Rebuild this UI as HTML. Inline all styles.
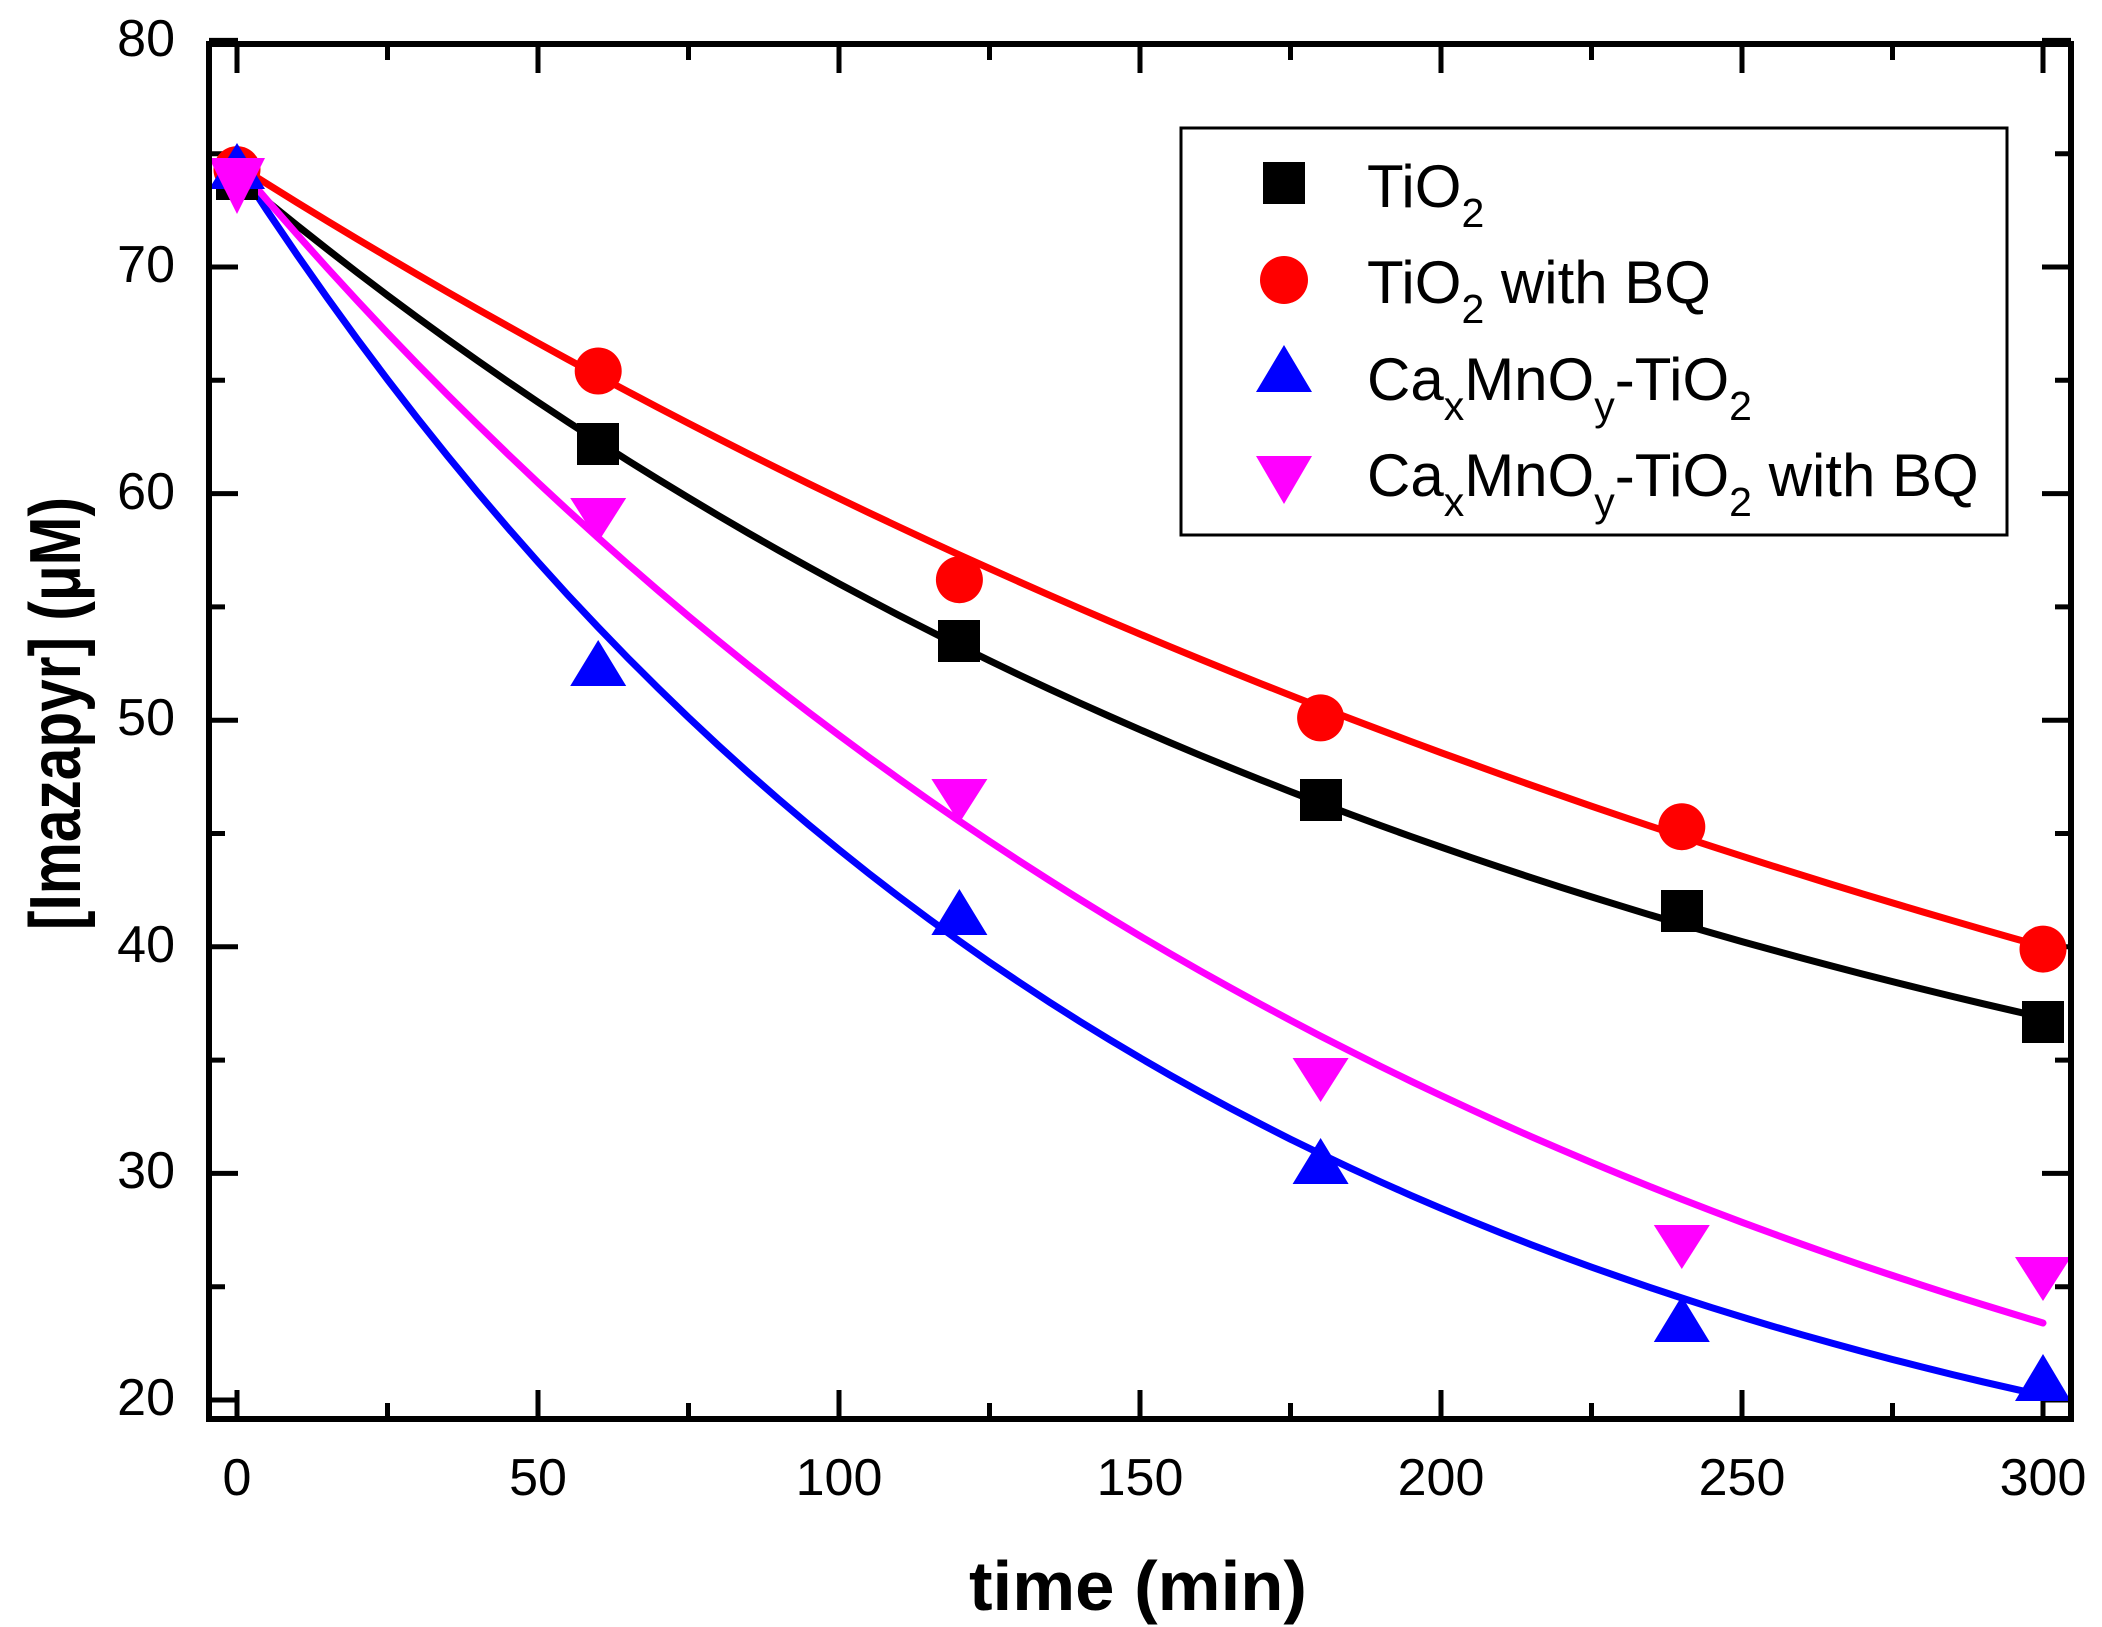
<!DOCTYPE html>
<html><head><meta charset="utf-8"><style>
html,body{margin:0;padding:0;background:#fff}
svg{display:block}
text{font-family:"Liberation Sans",Arial,sans-serif}
</style></head><body>
<svg width="2102" height="1627" viewBox="0 0 2102 1627" xmlns="http://www.w3.org/2000/svg">
<rect width="2102" height="1627" fill="#fff"/>
<g stroke="#000" stroke-width="5" fill="none">
<path d="M237 44v29M538 44v29M839 44v29M1140 44v29M1441 44v29M1742 44v29M2043 44v29
M387.5 44v16M688.5 44v16M989.5 44v16M1290.5 44v16M1591.5 44v16M1892.5 44v16
M237 1419v-29M538 1419v-29M839 1419v-29M1140 1419v-29M1441 1419v-29M1742 1419v-29M2043 1419v-29
M387.5 1419v-16M688.5 1419v-16M989.5 1419v-16M1290.5 1419v-16M1591.5 1419v-16M1892.5 1419v-16
M209 40.4h29M209 267h29M209 493.6h29M209 720.2h29M209 946.8h29M209 1173.4h29M209 1400h29
M209 153.7h16M209 380.3h16M209 606.9h16M209 833.5h16M209 1060.1h16M209 1286.7h16
M2071 40.4h-29M2071 267h-29M2071 493.6h-29M2071 720.2h-29M2071 946.8h-29M2071 1173.4h-29M2071 1400h-29
M2071 153.7h-16M2071 380.3h-16M2071 606.9h-16M2071 833.5h-16M2071 1060.1h-16M2071 1286.7h-16"/>
</g>
<g fill="none" stroke-width="7" stroke-linejoin="round" stroke-linecap="round">
<polyline id="c0" stroke="#000" points="237,1400"/>
<polyline id="c1" stroke="#f00" points="237,1400"/>
<polyline id="c2" stroke="#00f" points="237,1400"/>
<polyline id="c3" stroke="#f0f" points="237,1400"/>
</g>
<script>
(function(){
var m=[[50.9,23.1,0.77],[62,12.5,0.85],[64,10.5,0.68],[68.75,5.75,0.76]];
var end=[null,null,20.2,23.4];
for(var i=0;i<4;i++){
 var A=m[i][0],B=m[i][1],r=m[i][2],p=[];
 for(var t=0;t<=300;t+=5){
  var v=A*Math.pow(r,t/60)+B;
  if(end[i]!==null){v+= (end[i]-(A*Math.pow(r,5)+B))*t/300;}
  p.push((237+6.02*t).toFixed(1)+","+(1400-22.66*(v-20)).toFixed(1));
 }
 document.getElementById("c"+i).setAttribute("points",p.join(" "));
}
})();
</script>
<g fill="#000">
<rect x="216" y="158" width="42" height="42"/>
<rect x="577" y="423" width="42" height="42"/>
<rect x="938" y="620" width="42" height="42"/>
<rect x="1300" y="779" width="42" height="42"/>
<rect x="1661" y="890" width="42" height="42"/>
<rect x="2022" y="1001" width="42" height="42"/>
</g>
<g fill="#f00">
<circle cx="237" cy="169.6" r="23.5"/>
<circle cx="598.2" cy="371" r="23.5"/>
<circle cx="959.4" cy="579.7" r="23.5"/>
<circle cx="1320.6" cy="717.9" r="23.5"/>
<circle cx="1681.8" cy="826.7" r="23.5"/>
<circle cx="2043" cy="949.1" r="23.5"/>
</g>
<g fill="#00f">
<polygon points="237,143 209,189 265,189"/>
<polygon points="598.2,640 570.2,686 626.2,686"/>
<polygon points="959.4,889 931.4,935 987.4,935"/>
<polygon points="1320.6,1138 1292.6,1184 1348.6,1184"/>
<polygon points="1681.8,1296 1653.8,1342 1709.8,1342"/>
<polygon points="2043,1354 2015,1401 2071,1401"/>
</g>
<g fill="#f0f">
<polygon points="209,158 265,158 237,214"/>
<polygon points="570.2,498 626.2,498 598.2,542"/>
<polygon points="931.4,779 987.4,779 959.4,823"/>
<polygon points="1292.6,1058 1348.6,1058 1320.6,1102"/>
<polygon points="1653.8,1225 1709.8,1225 1681.8,1269"/>
<polygon points="2015,1257 2071,1257 2043,1301"/>
</g>
<rect x="209" y="44" width="1862" height="1375" fill="none" stroke="#000" stroke-width="6"/>
<g font-size="52" fill="#000" text-anchor="end">
<text x="175" y="56">80</text>
<text x="175" y="282">70</text>
<text x="175" y="509">60</text>
<text x="175" y="735">50</text>
<text x="175" y="962">40</text>
<text x="175" y="1188">30</text>
<text x="175" y="1415">20</text>
</g>
<g font-size="52" fill="#000" text-anchor="middle">
<text x="237" y="1495">0</text>
<text x="538" y="1495">50</text>
<text x="839" y="1495">100</text>
<text x="1140" y="1495">150</text>
<text x="1441" y="1495">200</text>
<text x="1742" y="1495">250</text>
<text x="2043" y="1495">300</text>
</g>
<text x="969" y="1610" font-size="70" font-weight="bold" textLength="338" lengthAdjust="spacingAndGlyphs">time (min)</text>
<text transform="translate(80,930) rotate(-90)" font-size="72" font-weight="bold" textLength="433" lengthAdjust="spacingAndGlyphs">[Imazapyr] (μM)</text>
<rect x="1181" y="128" width="826" height="407" fill="#fff" stroke="#000" stroke-width="3"/>
<rect x="1263" y="162" width="42" height="42" fill="#000"/>
<ellipse cx="1284" cy="280" rx="24" ry="24" fill="#f00"/>
<polygon points="1284,345 1256,392 1312,392" fill="#00f"/>
<polygon points="1256,456 1312,456 1284,504" fill="#f0f"/>
<g font-size="60" fill="#000">
<text x="1367" y="207">TiO<tspan font-size="41" dy="20">2</tspan></text>
<text x="1367" y="303">TiO<tspan font-size="41" dy="20">2</tspan><tspan dy="-20"> with BQ</tspan></text>
<text x="1367" y="400">Ca<tspan font-size="41" dy="20">x</tspan><tspan dy="-20">MnO</tspan><tspan font-size="41" dy="20">y</tspan><tspan dy="-20">-TiO</tspan><tspan font-size="41" dy="20">2</tspan></text>
<text x="1367" y="496">Ca<tspan font-size="41" dy="20">x</tspan><tspan dy="-20">MnO</tspan><tspan font-size="41" dy="20">y</tspan><tspan dy="-20">-TiO</tspan><tspan font-size="41" dy="20">2</tspan><tspan dy="-20"> with BQ</tspan></text>
</g>
</svg>
</body></html>
